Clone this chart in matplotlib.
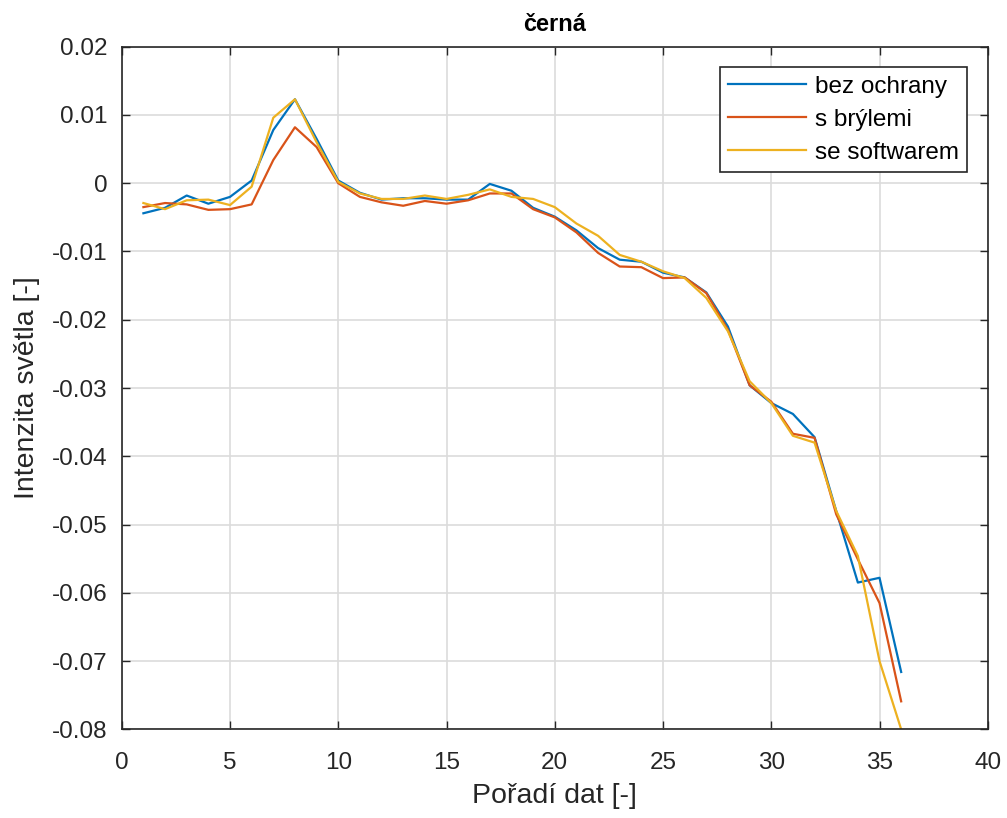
import numpy as np
import matplotlib
matplotlib.use('Agg')
from matplotlib import pyplot as plt

# data
x = np.arange(1, 37)
bez_ochrany = [-0.0044, -0.0036, -0.0018, -0.0030, -0.0020, 0.0004, 0.0078, 0.0123, 0.0065, 0.0004,
               -0.0014, -0.0024, -0.0022, -0.0022, -0.0024, -0.0024, -0.0001, -0.0011, -0.0036, -0.0049,
               -0.0069, -0.0095, -0.0112, -0.0115, -0.0131, -0.0138, -0.0160, -0.0210, -0.0296, -0.0322,
               -0.0338, -0.0372, -0.0480, -0.0585, -0.0578, -0.0716]
s_brylemi = [-0.0035, -0.0029, -0.0031, -0.0039, -0.0038, -0.0031, 0.0034, 0.0082, 0.0053, 0.0000,
             -0.0020, -0.0028, -0.0033, -0.0026, -0.0030, -0.0025, -0.0015, -0.0015, -0.0038, -0.0050,
             -0.0072, -0.0102, -0.0122, -0.0123, -0.0139, -0.0138, -0.0161, -0.0215, -0.0296, -0.0320,
             -0.0367, -0.0373, -0.0485, -0.0551, -0.0615, -0.0759]
se_softwarem = [-0.0029, -0.0038, -0.0025, -0.0024, -0.0032, -0.0005, 0.0096, 0.0123, 0.0060, 0.0002,
                -0.0015, -0.0023, -0.0023, -0.0018, -0.0023, -0.0017, -0.0009, -0.0020, -0.0023, -0.0035,
                -0.0059, -0.0077, -0.0105, -0.0115, -0.0129, -0.0139, -0.0168, -0.0217, -0.0290, -0.0322,
                -0.0370, -0.0380, -0.0480, -0.0546, -0.0700, -0.0800]
labels = ['bez ochrany', 's brýlemi', 'se softwarem']
colors = ['#0072BD', '#D95319', '#EDB120']

plt.rcParams['font.family'] = ['Liberation Sans', 'DejaVu Sans']

fig = plt.figure(figsize=(10.07, 8.18), dpi=100)
ax = fig.add_axes([0.1209, 0.1084, 0.860, 0.8345])

for series, label, color in zip([bez_ochrany, s_brylemi, se_softwarem], labels, colors):
    ax.plot(x, series, color=color, linewidth=1.6, label=label)

ax.set_xlim(0, 40)
ax.set_ylim(-0.08, 0.02)
ax.set_xticks(np.arange(0, 41, 5))
ax.set_yticks(np.arange(-0.08, 0.021, 0.01))
ax.set_yticklabels(['-0.08', '-0.07', '-0.06', '-0.05', '-0.04', '-0.03', '-0.02', '-0.01', '0', '0.01', '0.02'])
ax.tick_params(direction='in', length=6, width=1, labelsize=17.5, top=True, right=True,
               colors='#262626')
ax.tick_params(axis='y', pad=10)
ax.tick_params(axis='x', pad=16)
ax.grid(True, color='#dcdcdc', linewidth=1.2)
ax.set_axisbelow(True)
for sp in ax.spines.values():
    sp.set_color('#262626')
    sp.set_linewidth(1.2)

ax.set_title('černá', fontsize=17, fontweight='bold', color='black', pad=11)
ax.set_xlabel('Pořadí dat [-]', fontsize=20.5, color='#262626', labelpad=7)
ax.set_ylabel('Intenzita světla [-]', fontsize=20.5, color='#262626', labelpad=9)

leg = ax.legend(loc='upper right', fontsize=17.5, fancybox=False, framealpha=1,
                edgecolor='#262626', borderaxespad=0.85, handlelength=3.2, labelspacing=0.45,
                borderpad=0.35, handletextpad=0.35)
leg.get_frame().set_linewidth(1.2)

fig.savefig('out.png', dpi=100)
